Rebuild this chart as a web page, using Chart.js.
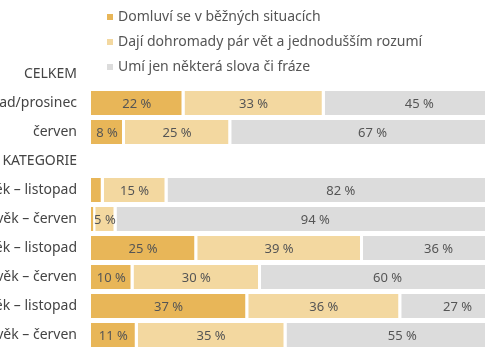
<!DOCTYPE html>
<html><head><meta charset="utf-8">
<script src="https://cdn.jsdelivr.net/npm/chart.js@4"></script>
<style>
html,body{margin:0;padding:0;overflow:hidden;background:#fff;width:485px;height:360px}
#wrap{position:absolute;left:0;top:0;width:516px;height:360px}
</style></head>
<body><div id="wrap"><canvas id="c"></canvas></div>
<script>
const categories = ["CELKEM","ad/prosinec","červen","KATEGORIE","ěk – listopad","věk – červen","ěk – listopad","věk – červen","ěk – listopad","věk – červen"];
const seriesNames = ["Domluví se v běžných situacích","Dají dohromady pár vět a jednodušším rozumí","Umí jen některá slova či fráze"];
const domluvi   = [null,22,8,null,3,1,25,10,37,11];
const dohromady = [null,33,25,null,15,5,39,30,36,35];
const slova     = [null,45,67,null,82,94,36,60,27,55];
const colors = ["#E8B658","#F3D8A0","#DCDCDC"];
const FONT = "'Noto Sans', sans-serif";

const valueLabels = {
  id:'valueLabels',
  afterDatasetsDraw(chart){
    const ctx = chart.ctx;
    ctx.save();
    ctx.font = "13px " + FONT;
    ctx.fillStyle = "#555";
    ctx.textAlign = "center";
    ctx.textBaseline = "middle";
    chart.data.datasets.forEach((ds,i)=>{
      const meta = chart.getDatasetMeta(i);
      meta.data.forEach((bar,j)=>{
        const v = ds.data[j];
        if (v == null || v < 5) return;
        const cx = (bar.x + bar.base)/2 - 1;
        ctx.fillText(v + " %", cx, bar.y + 1);
      });
    });
    ctx.restore();
  }
};

const topLegend = {
  id:'topLegend',
  afterDraw(chart){
    const ctx = chart.ctx;
    ctx.save();
    ctx.font = "14px " + FONT;
    ctx.textAlign = "left";
    ctx.textBaseline = "middle";
    const ys = [17, 42, 67];
    chart.data.datasets.forEach((ds,i)=>{
      ctx.fillStyle = ds.backgroundColor;
      ctx.fillRect(107, ys[i]-3, 6, 6);
      ctx.fillStyle = "#555";
      ctx.fillText(ds.label, 118, ys[i]);
    });
    ctx.restore();
  }
};

new Chart(document.getElementById('c'), {
  type:'bar',
  data:{
    labels: categories,
    datasets:[
      {label: seriesNames[0], data: domluvi, backgroundColor: colors[0]},
      {label: seriesNames[1], data: dohromady, backgroundColor: colors[1]},
      {label: seriesNames[2], data: slova, backgroundColor: colors[2]}
    ].map(d=>Object.assign(d,{borderColor:'#fff',borderWidth:{top:0,bottom:0,left:0,right:3},borderSkipped:false,categoryPercentage:1,barPercentage:0.83}))
  },
  options:{
    indexAxis:'y',
    responsive:true,
    maintainAspectRatio:false,
    animation:false,
    layout:{padding:{top:59.5,bottom:10.5,left:0,right:0}},
    plugins:{legend:{display:false},tooltip:{enabled:false}},
    scales:{
      x:{stacked:true,min:0,max:100,display:false},
      y:{stacked:true,grid:{display:false,drawTicks:false},border:{display:false},
         ticks:{color:'#444',font:{family:FONT,size:14},padding:14,autoSkip:false},
         afterFit(s){s.width=91;s.paddingTop=0;s.paddingBottom=0;}}
    }
  },
  plugins:[valueLabels, topLegend]
});
</script>
</body></html>
